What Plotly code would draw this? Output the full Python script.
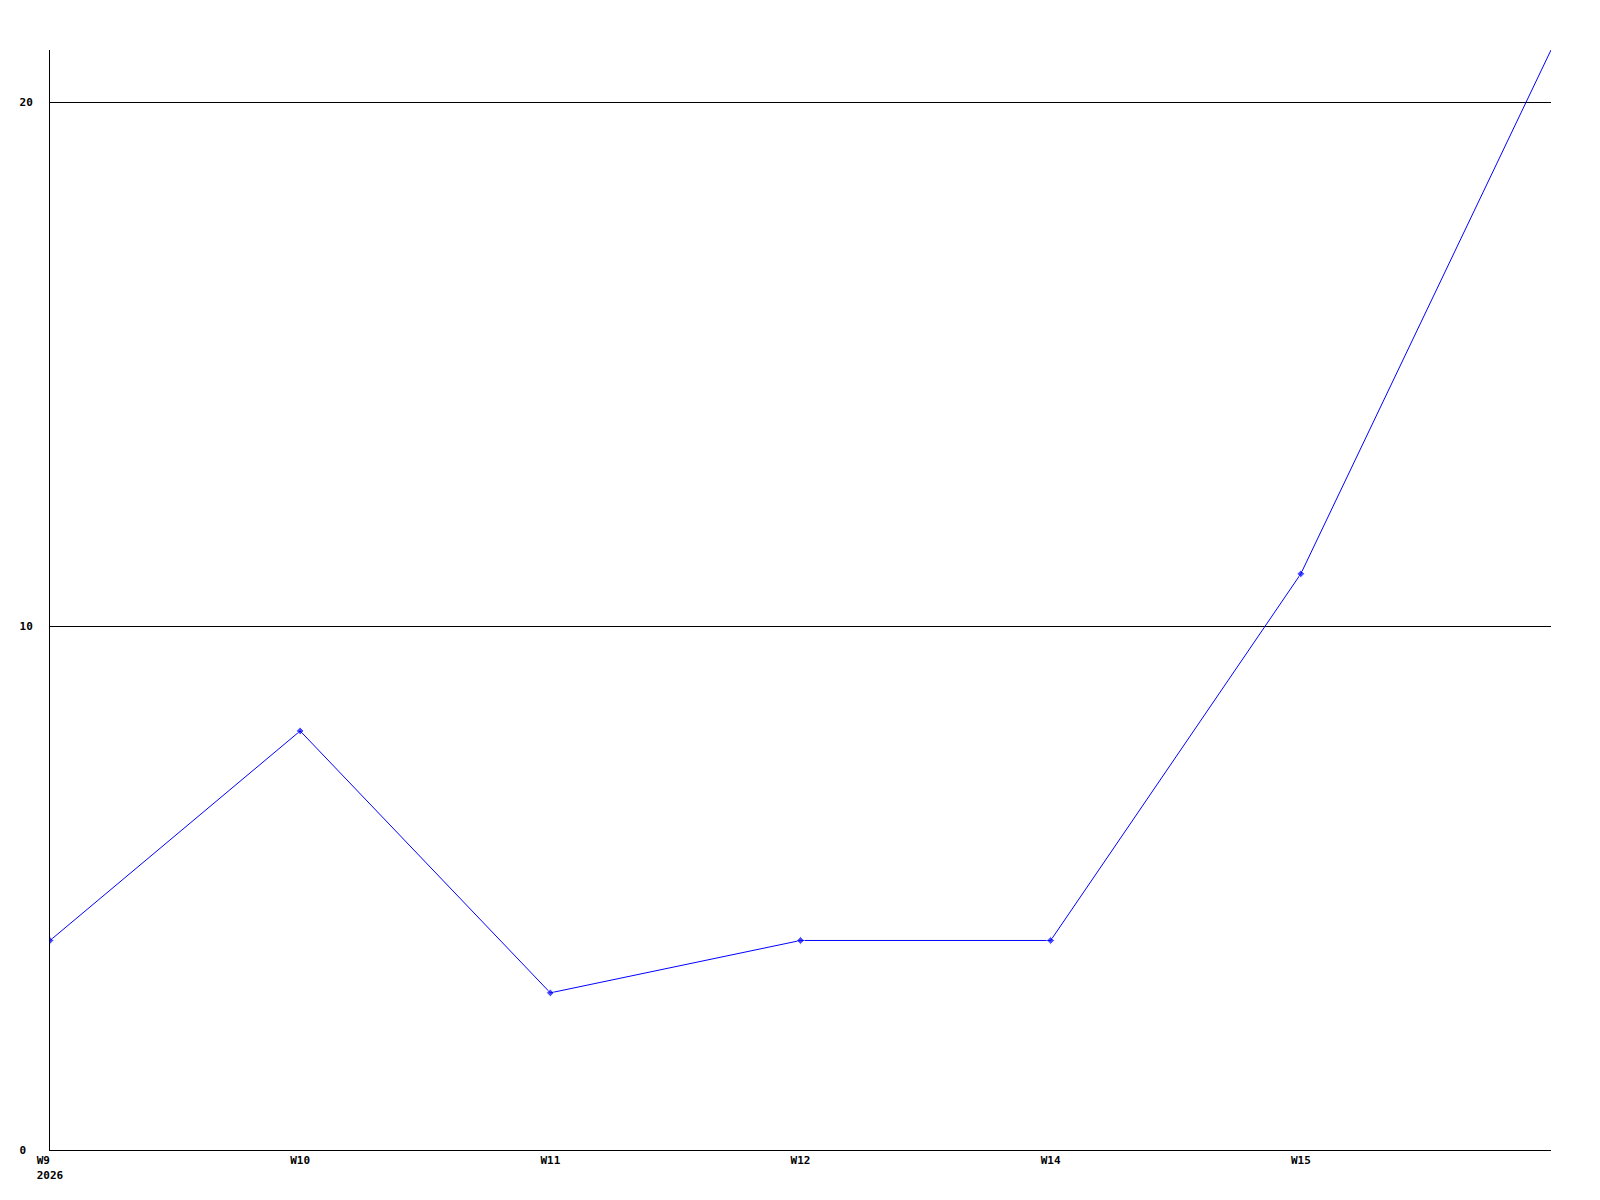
import plotly.graph_objects as go

categories = ["W9", "W10", "W11", "W12", "W14", "W15", "W16"]
values = [4, 8, 3, 4, 4, 11, 21]
x_tick_labels = ["W9\u00a0\u00a0<br>2026", "W10", "W11", "W12", "W14", "W15"]
y_tick_vals = [0, 10, 20]
y_tick_labels = ["0\u00a0", "10", "20"]

marker_sizes = [6] * (len(values) - 1) + [0]

fig = go.Figure()
fig.add_trace(go.Scatter(
    x=categories, y=values, mode="lines+markers",
    line=dict(color="#0000ff", width=1),
    marker=dict(color="#0000ff", size=marker_sizes, symbol="diamond"),
    hoverinfo="x+y",
))

font = dict(family="DejaVu Sans Mono", size=11, color="black", weight="bold")

fig.update_layout(
    width=1600, height=1200,
    margin=dict(l=42, r=57, t=42, b=58),
    paper_bgcolor="white", plot_bgcolor="white",
    showlegend=False,
    font=font,
)
fig.update_xaxes(
    type="category", range=[0, len(categories) - 1],
    tickvals=categories[:len(x_tick_labels)], ticktext=x_tick_labels,
    showgrid=False, zeroline=False,
    showline=True, linecolor="black", linewidth=1,
    ticks="", tickfont=font,
)
fig.update_yaxes(
    range=[0, 21],
    tickvals=y_tick_vals, ticktext=y_tick_labels,
    showgrid=True, gridcolor="black", gridwidth=1,
    zeroline=False,
    showline=True, linecolor="black", linewidth=1,
    ticks="", tickfont=font, ticklabelstandoff=14,
)

fig.write_html("out.html")
